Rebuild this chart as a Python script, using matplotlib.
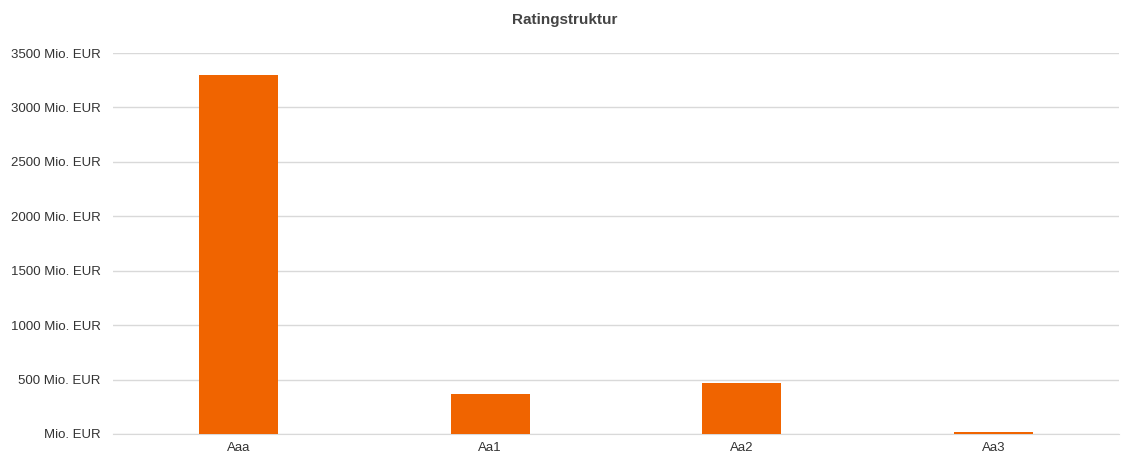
import matplotlib.pyplot as plt
from matplotlib.ticker import FuncFormatter

plt.rcParams['font.family'] = ['Liberation Sans', 'DejaVu Sans']

kategorien = ['Aaa', 'Aa1', 'Aa2', 'Aa3']
werte = [3300, 368, 468, 14]
y_ticks = [0, 500, 1000, 1500, 2000, 2500, 3000, 3500]

fig = plt.figure(figsize=(11.41, 4.66), dpi=100)
ax = fig.add_axes([113 / 1141, 1 - 434 / 466, (1119 - 113) / 1141, (434 - 53) / 466])

x = range(len(kategorien))
ax.bar(x, werte, width=0.315, color='#f06400', zorder=4)

ax.set_xlim(-0.5, len(kategorien) - 0.5)
ax.set_ylim(0, 3500)
ax.set_yticks(y_ticks)
ax.yaxis.set_major_formatter(FuncFormatter(lambda v, p: 'Mio. EUR' if v == 0 else f'{int(v)} Mio. EUR'))
ax.set_xticks(list(x))
ax.set_xticklabels(kategorien)

ax.grid(axis='y', color='#d9d9d9', linewidth=1, zorder=0)
for s in ['top', 'right', 'left']:
    ax.spines[s].set_visible(False)
ax.spines['bottom'].set_color('#d9d9d9')
ax.spines['bottom'].set_zorder(1)
ax.tick_params(length=0, labelsize=9.5, colors='#333333')
ax.tick_params(axis='y', pad=9)
ax.tick_params(axis='x', pad=6)

fig.text(0.495, 1 - 20 / 466, 'Ratingstruktur', ha='center', va='center',
         fontsize=11, fontweight='bold', color='#444444')

fig.savefig('out.png', dpi=100, facecolor='white')
